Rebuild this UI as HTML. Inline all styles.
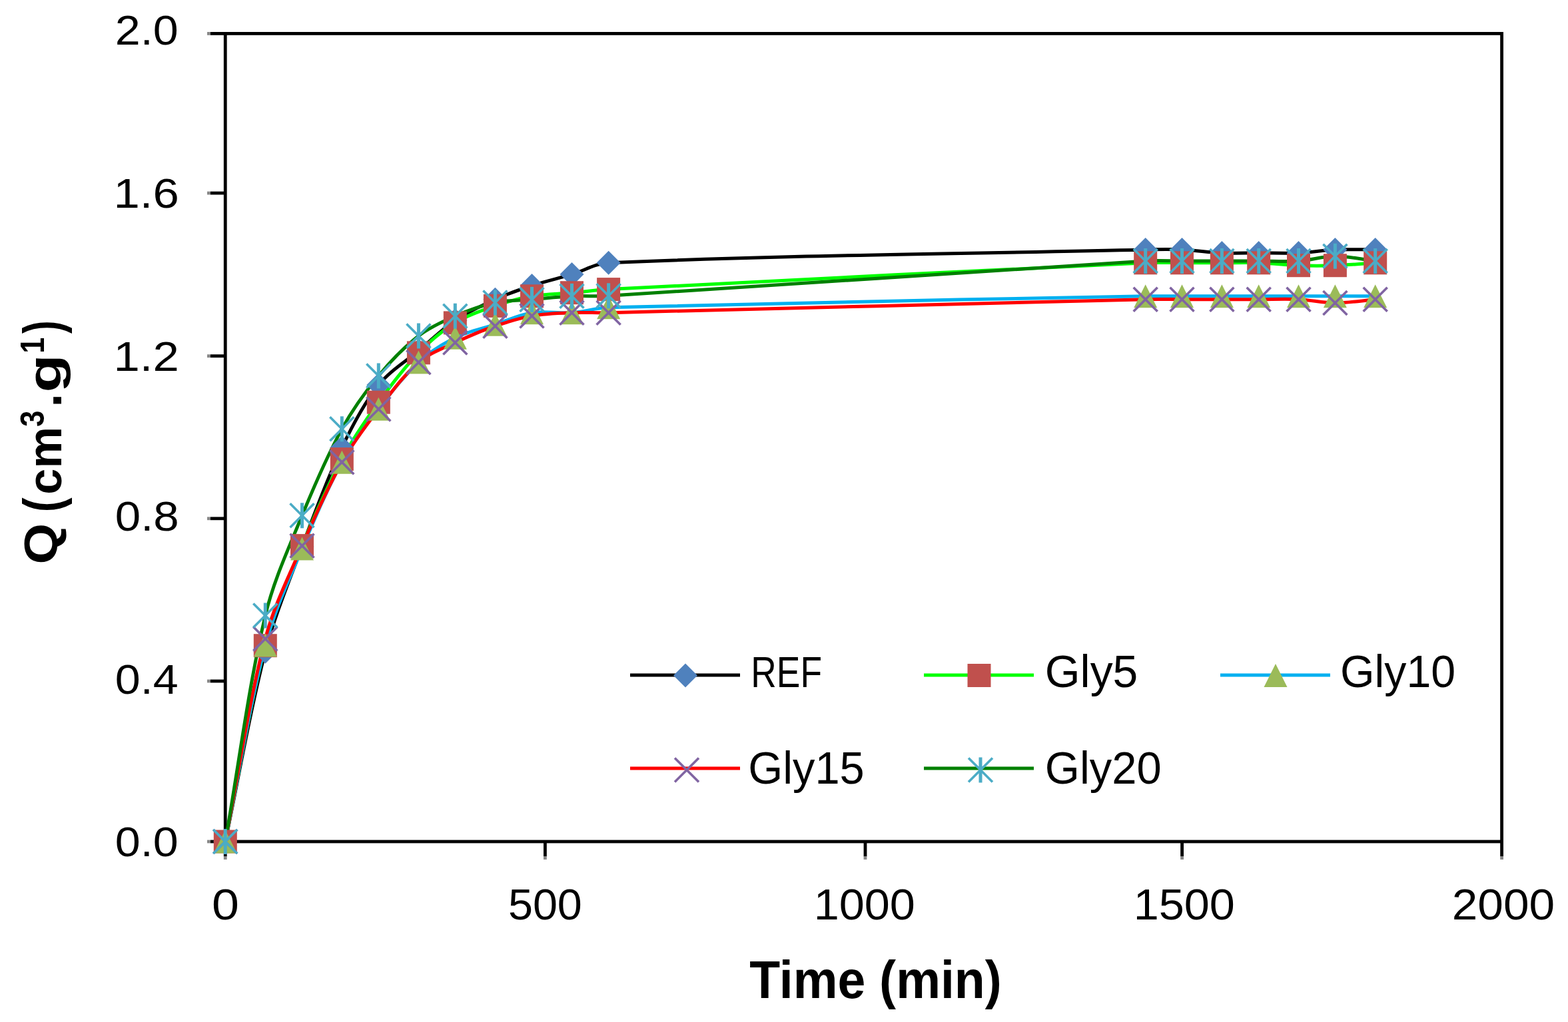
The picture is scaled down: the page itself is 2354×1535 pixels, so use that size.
<!DOCTYPE html>
<html><head><meta charset="utf-8"><title>Q vs Time</title><style>
html,body{margin:0;padding:0;background:#fff;width:2354px;height:1535px;overflow:hidden}
svg{display:block}
text{font-family:"Liberation Sans",Arial,sans-serif;fill:#000}
</style></head><body>
<svg width="2354" height="1535" viewBox="0 0 2354 1535">
<rect width="2354" height="1535" fill="#fff"/>
<rect x="338.25" y="50.4" width="1916.35" height="1213.60" fill="none" stroke="#000" stroke-width="4.8"/>
<line x1="316" y1="50.4" x2="338" y2="50.4" stroke="#000" stroke-width="4.8"/><line x1="311" y1="50.4" x2="316" y2="50.4" stroke="#888" stroke-width="4.8"/>
<line x1="316" y1="290" x2="338" y2="290" stroke="#000" stroke-width="4.8"/><line x1="311" y1="290" x2="316" y2="290" stroke="#888" stroke-width="4.8"/>
<line x1="316" y1="534.7" x2="338" y2="534.7" stroke="#000" stroke-width="4.8"/><line x1="311" y1="534.7" x2="316" y2="534.7" stroke="#888" stroke-width="4.8"/>
<line x1="316" y1="778.8" x2="338" y2="778.8" stroke="#000" stroke-width="4.8"/><line x1="311" y1="778.8" x2="316" y2="778.8" stroke="#888" stroke-width="4.8"/>
<line x1="316" y1="1023" x2="338" y2="1023" stroke="#000" stroke-width="4.8"/><line x1="311" y1="1023" x2="316" y2="1023" stroke="#888" stroke-width="4.8"/>
<line x1="316" y1="1264" x2="338" y2="1264" stroke="#000" stroke-width="4.8"/><line x1="311" y1="1264" x2="316" y2="1264" stroke="#888" stroke-width="4.8"/>
<line x1="338.25" y1="1264" x2="338.25" y2="1286.5" stroke="#000" stroke-width="4.8"/><line x1="338.25" y1="1286.5" x2="338.25" y2="1291" stroke="#888" stroke-width="4.8"/>
<line x1="818.4" y1="1264" x2="818.4" y2="1286.5" stroke="#000" stroke-width="4.8"/><line x1="818.4" y1="1286.5" x2="818.4" y2="1291" stroke="#888" stroke-width="4.8"/>
<line x1="1299" y1="1264" x2="1299" y2="1286.5" stroke="#000" stroke-width="4.8"/><line x1="1299" y1="1286.5" x2="1299" y2="1291" stroke="#888" stroke-width="4.8"/>
<line x1="1774.6" y1="1264" x2="1774.6" y2="1286.5" stroke="#000" stroke-width="4.8"/><line x1="1774.6" y1="1286.5" x2="1774.6" y2="1291" stroke="#888" stroke-width="4.8"/>
<line x1="2254.6" y1="1264" x2="2254.6" y2="1286.5" stroke="#000" stroke-width="4.8"/><line x1="2254.6" y1="1286.5" x2="2254.6" y2="1291" stroke="#888" stroke-width="4.8"/>
<path d="M338.2,1264.0 C358.3,1168.9 373.9,1072.6 398.3,978.8 C412.3,925.0 433.9,873.2 453.5,821.0 C472.3,771.0 490.5,720.5 513.3,672.4 C528.8,639.6 546.1,606.4 568.3,578.3 C584.4,557.9 608.2,543.8 628.4,526.7 C646.6,511.4 663.7,494.4 683.3,481.2 C702.0,468.7 722.8,459.0 743.4,449.7 C761.2,441.6 779.9,435.1 798.5,429.0 C818.2,422.6 838.6,418.0 858.5,412.1 C877.0,406.5 894.4,395.5 913.6,394.7 C1181.5,383.2 1451.0,381.2 1719.7,375.0 C1738.0,374.6 1756.3,374.3 1774.5,375.0 C1794.5,375.9 1814.4,379.0 1834.4,379.9 C1852.8,380.7 1871.3,379.9 1889.7,379.9 C1909.6,379.9 1929.6,380.7 1949.5,379.9 C1967.8,379.1 1986.1,375.8 2004.4,375.0 C2024.5,374.2 2044.6,375.0 2064.7,375.0" fill="none" stroke="#000000" stroke-width="5.0" stroke-linejoin="round"/>
<path d="M338.2,1264.0 C358.3,1165.9 373.2,1066.4 398.3,969.7 C411.6,918.2 433.3,868.9 453.5,819.6 C471.6,775.5 490.9,731.6 513.3,689.6 C529.2,659.8 548.5,631.7 568.3,604.2 C586.9,578.4 606.4,552.7 628.4,529.9 C644.7,512.9 663.3,497.1 683.3,484.9 C701.7,473.6 722.9,466.5 743.4,459.4 C761.3,453.2 779.8,448.0 798.5,444.8 C818.2,441.5 838.5,441.5 858.5,439.7 C876.9,438.1 895.2,435.6 913.6,434.6 C1182.2,420.6 1451.0,407.2 1719.7,394.8 C1737.9,393.9 1756.2,394.8 1774.5,394.8 C1794.5,394.8 1814.4,394.8 1834.4,394.8 C1852.8,394.8 1871.3,394.1 1889.7,394.8 C1909.7,395.4 1929.5,398.0 1949.5,398.7 C1967.8,399.3 1986.1,399.3 2004.4,398.7 C2024.5,398.0 2044.6,396.1 2064.7,394.8" fill="none" stroke="#00FF00" stroke-width="5.0" stroke-linejoin="round"/>
<path d="M338.2,1264.0 C358.3,1165.7 373.0,1065.9 398.3,969.1 C411.4,919.2 433.5,871.8 453.5,824.1 C471.9,780.1 490.5,735.9 513.3,694.2 C528.8,665.9 548.7,639.9 568.3,614.3 C587.0,589.9 606.0,564.9 628.4,544.1 C644.4,529.2 663.7,517.0 683.3,507.3 C702.1,498.1 723.3,493.9 743.4,487.3 C761.7,481.3 779.7,472.6 798.5,469.7 C818.0,466.7 838.6,471.1 858.5,469.7 C877.0,468.4 895.1,462.3 913.6,461.8 C1182.1,454.1 1451.0,450.1 1719.7,444.8 C1738.0,444.5 1756.2,444.8 1774.5,444.8 C1794.5,444.8 1814.4,444.8 1834.4,444.8 C1852.8,444.8 1871.3,444.8 1889.7,444.8 C1909.6,444.8 1929.6,444.8 1949.5,444.8 C1967.8,444.8 1986.1,444.8 2004.4,444.8 C2024.5,444.8 2044.6,444.8 2064.7,444.8" fill="none" stroke="#00B0F0" stroke-width="5.0" stroke-linejoin="round"/>
<path d="M338.2,1264.0 C358.3,1162.5 372.4,1059.2 398.3,959.4 C410.8,911.1 433.6,865.7 453.5,819.8 C471.9,777.3 490.7,734.6 513.3,694.2 C529.0,666.1 548.7,640.0 568.3,614.4 C587.0,590.0 605.5,564.2 628.4,544.3 C643.9,530.9 664.5,523.5 683.3,514.6 C702.9,505.3 723.0,496.8 743.4,489.7 C761.4,483.5 779.8,477.8 798.5,474.6 C818.2,471.1 838.5,470.5 858.5,469.7 C876.8,468.9 895.2,470.1 913.6,469.7 C1182.3,463.5 1451.0,455.9 1719.7,449.7 C1738.0,449.2 1756.2,449.7 1774.5,449.7 C1794.5,449.7 1814.4,449.7 1834.4,449.7 C1852.8,449.7 1871.3,449.7 1889.7,449.7 C1909.6,449.7 1929.6,448.7 1949.5,449.7 C1967.8,450.5 1986.1,455.1 2004.4,455.1 C2024.5,455.1 2044.6,451.5 2064.7,449.7" fill="none" stroke="#FF0000" stroke-width="5.0" stroke-linejoin="round"/>
<path d="M338.2,1264.0 C358.3,1150.8 372.1,1036.0 398.3,924.5 C410.5,872.8 433.3,823.6 453.5,774.3 C471.6,730.2 490.5,686.0 513.3,644.3 C528.7,616.0 547.9,589.3 568.3,564.5 C586.2,542.7 606.3,521.7 628.4,504.5 C644.6,491.8 664.3,482.9 683.3,474.7 C702.6,466.3 722.9,458.9 743.4,454.5 C761.3,450.7 780.1,451.5 798.5,449.9 C818.5,448.2 838.5,445.8 858.5,444.8 C876.8,443.9 895.3,445.5 913.6,444.3 C1182.3,427.9 1451.0,408.4 1719.7,392.0 C1737.9,390.9 1756.2,392.0 1774.5,392.0 C1794.5,392.0 1814.4,392.0 1834.4,392.0 C1852.8,392.0 1871.3,392.0 1889.7,392.0 C1909.6,392.0 1929.6,393.3 1949.5,392.0 C1967.9,390.9 1986.1,384.7 2004.4,384.7 C2024.5,384.7 2044.6,389.6 2064.7,392.0" fill="none" stroke="#008000" stroke-width="5.0" stroke-linejoin="round"/>
<g><path d="M338.2,1246.0L356.2,1264.0L338.2,1282.0L320.2,1264.0Z" fill="#4F81BD"/><path d="M398.3,960.8L416.3,978.8L398.3,996.8L380.3,978.8Z" fill="#4F81BD"/><path d="M453.5,803.0L471.5,821.0L453.5,839.0L435.5,821.0Z" fill="#4F81BD"/><path d="M513.3,654.4L531.3,672.4L513.3,690.4L495.3,672.4Z" fill="#4F81BD"/><path d="M568.3,560.3L586.3,578.3L568.3,596.3L550.3,578.3Z" fill="#4F81BD"/><path d="M628.4,508.7L646.4,526.7L628.4,544.7L610.4,526.7Z" fill="#4F81BD"/><path d="M683.3,463.2L701.3,481.2L683.3,499.2L665.3,481.2Z" fill="#4F81BD"/><path d="M743.4,431.7L761.4,449.7L743.4,467.7L725.4,449.7Z" fill="#4F81BD"/><path d="M798.5,411.0L816.5,429.0L798.5,447.0L780.5,429.0Z" fill="#4F81BD"/><path d="M858.5,394.1L876.5,412.1L858.5,430.1L840.5,412.1Z" fill="#4F81BD"/><path d="M913.6,376.7L931.6,394.7L913.6,412.7L895.6,394.7Z" fill="#4F81BD"/><path d="M1719.7,357.0L1737.7,375.0L1719.7,393.0L1701.7,375.0Z" fill="#4F81BD"/><path d="M1774.5,357.0L1792.5,375.0L1774.5,393.0L1756.5,375.0Z" fill="#4F81BD"/><path d="M1834.4,361.9L1852.4,379.9L1834.4,397.9L1816.4,379.9Z" fill="#4F81BD"/><path d="M1889.7,361.9L1907.7,379.9L1889.7,397.9L1871.7,379.9Z" fill="#4F81BD"/><path d="M1949.5,361.9L1967.5,379.9L1949.5,397.9L1931.5,379.9Z" fill="#4F81BD"/><path d="M2004.4,357.0L2022.4,375.0L2004.4,393.0L1986.4,375.0Z" fill="#4F81BD"/><path d="M2064.7,357.0L2082.7,375.0L2064.7,393.0L2046.7,375.0Z" fill="#4F81BD"/></g>
<g><rect x="320.8" y="1246.5" width="35.0" height="35.0" fill="#C0504D"/><rect x="380.8" y="952.2" width="35.0" height="35.0" fill="#C0504D"/><rect x="436.0" y="802.1" width="35.0" height="35.0" fill="#C0504D"/><rect x="495.8" y="672.1" width="35.0" height="35.0" fill="#C0504D"/><rect x="550.8" y="586.7" width="35.0" height="35.0" fill="#C0504D"/><rect x="610.9" y="512.4" width="35.0" height="35.0" fill="#C0504D"/><rect x="665.8" y="467.4" width="35.0" height="35.0" fill="#C0504D"/><rect x="725.9" y="441.9" width="35.0" height="35.0" fill="#C0504D"/><rect x="781.0" y="427.3" width="35.0" height="35.0" fill="#C0504D"/><rect x="841.0" y="422.2" width="35.0" height="35.0" fill="#C0504D"/><rect x="896.1" y="417.1" width="35.0" height="35.0" fill="#C0504D"/><rect x="1702.2" y="377.3" width="35.0" height="35.0" fill="#C0504D"/><rect x="1757.0" y="377.3" width="35.0" height="35.0" fill="#C0504D"/><rect x="1816.9" y="377.3" width="35.0" height="35.0" fill="#C0504D"/><rect x="1872.2" y="377.3" width="35.0" height="35.0" fill="#C0504D"/><rect x="1932.0" y="381.2" width="35.0" height="35.0" fill="#C0504D"/><rect x="1986.9" y="381.2" width="35.0" height="35.0" fill="#C0504D"/><rect x="2047.2" y="377.3" width="35.0" height="35.0" fill="#C0504D"/></g>
<g><path d="M338.2,1246.5L355.8,1281.5L320.8,1281.5Z" fill="#9BBB59"/><path d="M398.3,951.6L415.8,986.6L380.8,986.6Z" fill="#9BBB59"/><path d="M453.5,806.6L471.0,841.6L436.0,841.6Z" fill="#9BBB59"/><path d="M513.3,676.7L530.8,711.7L495.8,711.7Z" fill="#9BBB59"/><path d="M568.3,596.8L585.8,631.8L550.8,631.8Z" fill="#9BBB59"/><path d="M628.4,526.6L645.9,561.6L610.9,561.6Z" fill="#9BBB59"/><path d="M683.3,489.8L700.8,524.8L665.8,524.8Z" fill="#9BBB59"/><path d="M743.4,469.8L760.9,504.8L725.9,504.8Z" fill="#9BBB59"/><path d="M798.5,452.2L816.0,487.2L781.0,487.2Z" fill="#9BBB59"/><path d="M858.5,452.2L876.0,487.2L841.0,487.2Z" fill="#9BBB59"/><path d="M913.6,444.3L931.1,479.3L896.1,479.3Z" fill="#9BBB59"/><path d="M1719.7,427.3L1737.2,462.3L1702.2,462.3Z" fill="#9BBB59"/><path d="M1774.5,427.3L1792.0,462.3L1757.0,462.3Z" fill="#9BBB59"/><path d="M1834.4,427.3L1851.9,462.3L1816.9,462.3Z" fill="#9BBB59"/><path d="M1889.7,427.3L1907.2,462.3L1872.2,462.3Z" fill="#9BBB59"/><path d="M1949.5,427.3L1967.0,462.3L1932.0,462.3Z" fill="#9BBB59"/><path d="M2004.4,427.3L2021.9,462.3L1986.9,462.3Z" fill="#9BBB59"/><path d="M2064.7,427.3L2082.2,462.3L2047.2,462.3Z" fill="#9BBB59"/></g>
<g><path d="M320.2,1246.0L356.2,1282.0M356.2,1246.0L320.2,1282.0" stroke="#8064A2" stroke-width="3.6" fill="none"/><path d="M380.3,941.4L416.3,977.4M416.3,941.4L380.3,977.4" stroke="#8064A2" stroke-width="3.6" fill="none"/><path d="M435.5,801.8L471.5,837.8M471.5,801.8L435.5,837.8" stroke="#8064A2" stroke-width="3.6" fill="none"/><path d="M495.3,676.2L531.3,712.2M531.3,676.2L495.3,712.2" stroke="#8064A2" stroke-width="3.6" fill="none"/><path d="M550.3,596.4L586.3,632.4M586.3,596.4L550.3,632.4" stroke="#8064A2" stroke-width="3.6" fill="none"/><path d="M610.4,526.3L646.4,562.3M646.4,526.3L610.4,562.3" stroke="#8064A2" stroke-width="3.6" fill="none"/><path d="M665.3,496.6L701.3,532.6M701.3,496.6L665.3,532.6" stroke="#8064A2" stroke-width="3.6" fill="none"/><path d="M725.4,471.7L761.4,507.7M761.4,471.7L725.4,507.7" stroke="#8064A2" stroke-width="3.6" fill="none"/><path d="M780.5,456.6L816.5,492.6M816.5,456.6L780.5,492.6" stroke="#8064A2" stroke-width="3.6" fill="none"/><path d="M840.5,451.7L876.5,487.7M876.5,451.7L840.5,487.7" stroke="#8064A2" stroke-width="3.6" fill="none"/><path d="M895.6,451.7L931.6,487.7M931.6,451.7L895.6,487.7" stroke="#8064A2" stroke-width="3.6" fill="none"/><path d="M1701.7,431.7L1737.7,467.7M1737.7,431.7L1701.7,467.7" stroke="#8064A2" stroke-width="3.6" fill="none"/><path d="M1756.5,431.7L1792.5,467.7M1792.5,431.7L1756.5,467.7" stroke="#8064A2" stroke-width="3.6" fill="none"/><path d="M1816.4,431.7L1852.4,467.7M1852.4,431.7L1816.4,467.7" stroke="#8064A2" stroke-width="3.6" fill="none"/><path d="M1871.7,431.7L1907.7,467.7M1907.7,431.7L1871.7,467.7" stroke="#8064A2" stroke-width="3.6" fill="none"/><path d="M1931.5,431.7L1967.5,467.7M1967.5,431.7L1931.5,467.7" stroke="#8064A2" stroke-width="3.6" fill="none"/><path d="M1986.4,437.1L2022.4,473.1M2022.4,437.1L1986.4,473.1" stroke="#8064A2" stroke-width="3.6" fill="none"/><path d="M2046.7,431.7L2082.7,467.7M2082.7,431.7L2046.7,467.7" stroke="#8064A2" stroke-width="3.6" fill="none"/></g>
<g><path d="M320.2,1246.0L356.2,1282.0M356.2,1246.0L320.2,1282.0" stroke="#4BACC6" stroke-width="3.6" fill="none"/><path d="M338.2,1245.0L338.2,1283.0" stroke="#4BACC6" stroke-width="5" fill="none"/><path d="M380.3,906.5L416.3,942.5M416.3,906.5L380.3,942.5" stroke="#4BACC6" stroke-width="3.6" fill="none"/><path d="M398.3,905.5L398.3,943.5" stroke="#4BACC6" stroke-width="5" fill="none"/><path d="M435.5,756.3L471.5,792.3M471.5,756.3L435.5,792.3" stroke="#4BACC6" stroke-width="3.6" fill="none"/><path d="M453.5,755.3L453.5,793.3" stroke="#4BACC6" stroke-width="5" fill="none"/><path d="M495.3,626.3L531.3,662.3M531.3,626.3L495.3,662.3" stroke="#4BACC6" stroke-width="3.6" fill="none"/><path d="M513.3,625.3L513.3,663.3" stroke="#4BACC6" stroke-width="5" fill="none"/><path d="M550.3,546.5L586.3,582.5M586.3,546.5L550.3,582.5" stroke="#4BACC6" stroke-width="3.6" fill="none"/><path d="M568.3,545.5L568.3,583.5" stroke="#4BACC6" stroke-width="5" fill="none"/><path d="M610.4,486.5L646.4,522.5M646.4,486.5L610.4,522.5" stroke="#4BACC6" stroke-width="3.6" fill="none"/><path d="M628.4,485.5L628.4,523.5" stroke="#4BACC6" stroke-width="5" fill="none"/><path d="M665.3,456.7L701.3,492.7M701.3,456.7L665.3,492.7" stroke="#4BACC6" stroke-width="3.6" fill="none"/><path d="M683.3,455.7L683.3,493.7" stroke="#4BACC6" stroke-width="5" fill="none"/><path d="M725.4,436.5L761.4,472.5M761.4,436.5L725.4,472.5" stroke="#4BACC6" stroke-width="3.6" fill="none"/><path d="M743.4,435.5L743.4,473.5" stroke="#4BACC6" stroke-width="5" fill="none"/><path d="M780.5,431.9L816.5,467.9M816.5,431.9L780.5,467.9" stroke="#4BACC6" stroke-width="3.6" fill="none"/><path d="M798.5,430.9L798.5,468.9" stroke="#4BACC6" stroke-width="5" fill="none"/><path d="M840.5,426.8L876.5,462.8M876.5,426.8L840.5,462.8" stroke="#4BACC6" stroke-width="3.6" fill="none"/><path d="M858.5,425.8L858.5,463.8" stroke="#4BACC6" stroke-width="5" fill="none"/><path d="M895.6,426.3L931.6,462.3M931.6,426.3L895.6,462.3" stroke="#4BACC6" stroke-width="3.6" fill="none"/><path d="M913.6,425.3L913.6,463.3" stroke="#4BACC6" stroke-width="5" fill="none"/><path d="M1701.7,374.0L1737.7,410.0M1737.7,374.0L1701.7,410.0" stroke="#4BACC6" stroke-width="3.6" fill="none"/><path d="M1719.7,373.0L1719.7,411.0" stroke="#4BACC6" stroke-width="5" fill="none"/><path d="M1756.5,374.0L1792.5,410.0M1792.5,374.0L1756.5,410.0" stroke="#4BACC6" stroke-width="3.6" fill="none"/><path d="M1774.5,373.0L1774.5,411.0" stroke="#4BACC6" stroke-width="5" fill="none"/><path d="M1816.4,374.0L1852.4,410.0M1852.4,374.0L1816.4,410.0" stroke="#4BACC6" stroke-width="3.6" fill="none"/><path d="M1834.4,373.0L1834.4,411.0" stroke="#4BACC6" stroke-width="5" fill="none"/><path d="M1871.7,374.0L1907.7,410.0M1907.7,374.0L1871.7,410.0" stroke="#4BACC6" stroke-width="3.6" fill="none"/><path d="M1889.7,373.0L1889.7,411.0" stroke="#4BACC6" stroke-width="5" fill="none"/><path d="M1931.5,374.0L1967.5,410.0M1967.5,374.0L1931.5,410.0" stroke="#4BACC6" stroke-width="3.6" fill="none"/><path d="M1949.5,373.0L1949.5,411.0" stroke="#4BACC6" stroke-width="5" fill="none"/><path d="M1986.4,366.7L2022.4,402.7M2022.4,366.7L1986.4,402.7" stroke="#4BACC6" stroke-width="3.6" fill="none"/><path d="M2004.4,365.7L2004.4,403.7" stroke="#4BACC6" stroke-width="5" fill="none"/><path d="M2046.7,374.0L2082.7,410.0M2082.7,374.0L2046.7,410.0" stroke="#4BACC6" stroke-width="3.6" fill="none"/><path d="M2064.7,373.0L2064.7,411.0" stroke="#4BACC6" stroke-width="5" fill="none"/></g>
<line x1="946" y1="1014" x2="1111" y2="1014" stroke="#000000" stroke-width="5.0"/>
<path d="M1029.0,996.5L1047.0,1014.5L1029.0,1032.5L1011.0,1014.5Z" fill="#4F81BD"/>
<line x1="1387" y1="1014" x2="1552" y2="1014" stroke="#00FF00" stroke-width="5.0"/>
<rect x="1452.5" y="997.0" width="35.0" height="35.0" fill="#C0504D"/>
<line x1="1832" y1="1014" x2="1997" y2="1014" stroke="#00B0F0" stroke-width="5.0"/>
<path d="M1915.0,997.0L1932.5,1032.0L1897.5,1032.0Z" fill="#9BBB59"/>
<line x1="946" y1="1154" x2="1111" y2="1154" stroke="#FF0000" stroke-width="5.0"/>
<path d="M1013.0,1138.5L1049.0,1174.5M1049.0,1138.5L1013.0,1174.5" stroke="#8064A2" stroke-width="3.6" fill="none"/>
<line x1="1387" y1="1154" x2="1552" y2="1154" stroke="#008000" stroke-width="5.0"/>
<path d="M1454.0,1138.5L1490.0,1174.5M1490.0,1138.5L1454.0,1174.5" stroke="#4BACC6" stroke-width="3.6" fill="none"/><path d="M1472.0,1137.5L1472.0,1175.5" stroke="#4BACC6" stroke-width="5" fill="none"/>
<text x="0" y="0" font-size="64" transform="matrix(1.0655,0,0,0.9844,172.80,67.30)">2.0</text>
<text x="0" y="0" font-size="64" transform="matrix(1.1049,0,0,0.9867,170.48,312.40)">1.6</text>
<text x="0" y="0" font-size="64" transform="matrix(1.1049,0,0,0.9911,170.48,556.80)">1.2</text>
<text x="0" y="0" font-size="64" transform="matrix(1.0783,0,0,0.9844,172.77,796.60)">0.8</text>
<text x="0" y="0" font-size="64" transform="matrix(1.0655,0,0,0.9844,172.80,1041.60)">0.4</text>
<text x="0" y="0" font-size="64" transform="matrix(1.0655,0,0,0.9844,172.80,1286.00)">0.0</text>
<text x="0" y="0" font-size="64" transform="matrix(1.1500,0,0,1.0000,317.95,1381.00)">0</text>
<text x="0" y="0" font-size="64" transform="matrix(1.0396,0,0,1.0000,762.88,1381.00)">500</text>
<text x="0" y="0" font-size="64" transform="matrix(1.0696,0,0,1.0000,1221.65,1381.00)">1000</text>
<text x="0" y="0" font-size="64" transform="matrix(1.0696,0,0,1.0000,1701.65,1381.00)">1500</text>
<text x="0" y="0" font-size="64" transform="matrix(1.0847,0,0,1.0000,2179.75,1381.00)">2000</text>
<text x="0" y="0" font-size="66" transform="matrix(0.8081,0,0,0.9783,1127.36,1032.00)">REF</text>
<text x="0" y="0" font-size="66" transform="matrix(1.0285,0,0,1.0403,1568.81,1031.94)">Gly5</text>
<text x="0" y="0" font-size="66" transform="matrix(1.0048,0,0,1.0403,2011.99,1031.94)">Gly10</text>
<text x="0" y="0" font-size="66" transform="matrix(1.0120,0,0,1.0403,1123.26,1176.64)">Gly15</text>
<text x="0" y="0" font-size="66" transform="matrix(1.0144,0,0,1.0403,1568.86,1176.64)">Gly20</text>
<text x="0" y="0" font-size="76" font-weight="bold" transform="matrix(0.9889,0,0,1.0592,1125.21,1498.95)">Time (min)</text>
<text x="0" y="0" font-size="80" font-weight="bold" transform="matrix(0,-0.9911,0.8732,0,86.03,847.47)">Q</text>
<text x="0" y="0" font-size="80" font-weight="bold" transform="matrix(0,-0.8182,1.0000,0,91.00,769.27)">(</text>
<text x="0" y="0" font-size="80" font-weight="bold" transform="matrix(0,-0.8796,0.9091,0,92.09,742.64)">cm</text>
<text x="0" y="0" font-size="80" font-weight="bold" transform="matrix(0,-0.5500,0.6140,0,66.39,641.10)">3</text>
<text x="0" y="0" font-size="80" font-weight="bold" transform="matrix(0,-0.9167,1.0000,0,92.00,611.58)">.</text>
<text x="0" y="0" font-size="80" font-weight="bold" transform="matrix(0,-1.1750,0.8833,0,90.98,589.52)">g</text>
<text x="0" y="0" font-size="80" font-weight="bold" transform="matrix(0,-0.5405,0.6182,0,66.00,530.70)">1</text>
<text x="0" y="0" font-size="80" font-weight="bold" transform="matrix(0,-0.7391,1.0000,0,91.00,501.00)">)</text>
</svg>
</body></html>
